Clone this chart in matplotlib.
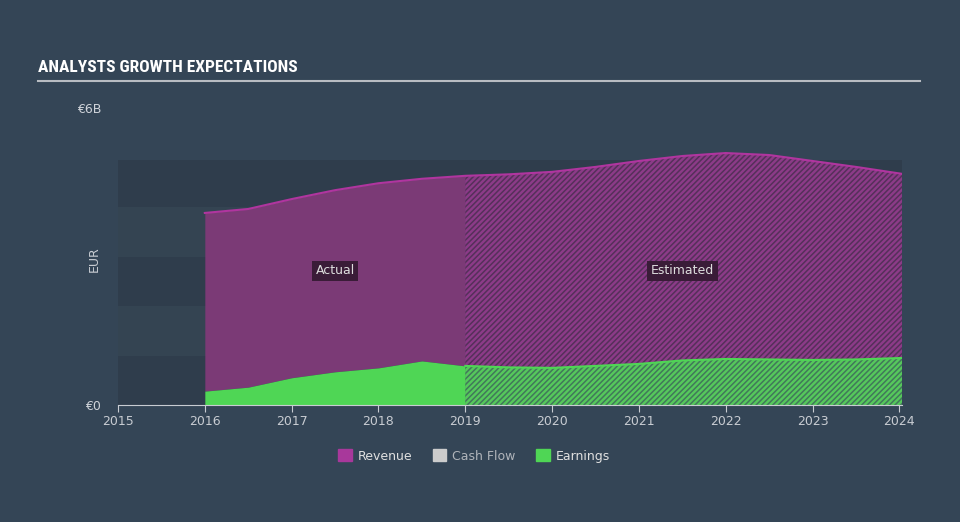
import numpy as np
import matplotlib.pyplot as plt
from matplotlib.patches import Patch

# values in billions EUR
rev_years = [2016.0, 2016.5, 2017.0, 2017.5, 2018.0, 2018.5, 2019.0, 2019.5, 2020.0,
             2020.5, 2021.0, 2021.5, 2022.0, 2022.5, 2023.0, 2023.5, 2024.03]
revenue = [3.88, 3.96, 4.16, 4.34, 4.48, 4.57, 4.63, 4.66, 4.71,
           4.81, 4.93, 5.03, 5.09, 5.05, 4.93, 4.81, 4.67]
earnings = [0.28, 0.36, 0.55, 0.67, 0.75, 0.89, 0.79, 0.76, 0.75,
            0.79, 0.83, 0.90, 0.93, 0.92, 0.91, 0.92, 0.95]
split_year = 2019.0
x_ticks = list(range(2015, 2025))
y_ticks = [0, 6]
y_labels = ["€0", "€6B"]
legend_names = ["Revenue", "Cash Flow", "Earnings"]

bg = "#344556"
rev_fill = "#7b3a76"
rev_line = "#b0359f"
earn_fill = "#4fd655"

plt.rcParams["hatch.linewidth"] = 1.1

fig = plt.figure(figsize=[9.6, 5.22], dpi=100)
fig.patch.set_facecolor(bg)
ax = fig.add_axes([118 / 960, 117 / 522, 784 / 960, 297 / 522])
ax.set_facecolor(bg)

ax.set_xlim(2015, 2024.03)
ax.set_ylim(0, 6)

# background bands
for i in range(5):
    c = "#2f3d4c" if i % 2 == 0 else "#344452"
    ax.axhspan(i, min(i + 1, 4.95), color=c, zorder=0, lw=0)

x = np.array(rev_years)
r = np.array(revenue)
e = np.array(earnings)
act = x <= split_year
est = x >= split_year

ax.fill_between(x[act], e[act], r[act], color=rev_fill, lw=0, zorder=2)
ax.fill_between(x[act], 0, e[act], color=earn_fill, lw=0, zorder=2)
ax.fill_between(x[est], e[est], r[est], facecolor="#8c3b88", edgecolor="#55305a",
                hatch="//////", lw=0, zorder=2)
ax.fill_between(x[est], 0, e[est], facecolor="#56c85c", edgecolor="#41785a",
                hatch="//////", lw=0, zorder=2)
ax.plot(x, r, color=rev_line, lw=1.5, zorder=3)
ax.plot(x[est], e[est], color=earn_fill, lw=1.5, zorder=3)

for tx, label in [(2017.5, "Actual"), (2021.5, "Estimated")]:
    ax.text(tx, 2.71, label, color="#dddddd", fontsize=9, ha="center", va="center",
            zorder=5, bbox=dict(boxstyle="square,pad=0.3", fc="#3a1c38", ec="none"))

for s in ["top", "right", "left"]:
    ax.spines[s].set_visible(False)
ax.spines["bottom"].set_color("#c8ccd2")
ax.set_xticks(x_ticks)
ax.set_xticklabels([str(t) for t in x_ticks])
ax.tick_params(axis="x", colors="#c8ccd2", labelcolor="#c8ccd2", length=5, labelsize=9, pad=2)
ax.set_yticks(y_ticks)
ax.set_yticklabels(y_labels)
ax.tick_params(axis="y", length=0, labelcolor="#d0d4da", labelsize=9, pad=12)
ax.set_ylabel("EUR", color="#c8ccd2", fontsize=9, labelpad=2)
ax.yaxis.set_label_coords(-0.022, 0.49)

fig.text(38 / 960, 1 - 68 / 522, "ANALYSTS GROWTH EXPECTATIONS", color="white",
         fontsize=12.5, fontweight="bold", va="center", ha="left",
         family=["Roboto Condensed", "DejaVu Sans"])
fig.add_artist(plt.Line2D([38 / 960, 920 / 960], [1 - 81 / 522, 1 - 81 / 522],
                          color="#b8bcc2", lw=1.5))

handles = [Patch(color="#a8389b"), Patch(color="#cccccc"), Patch(color=earn_fill)]
leg = fig.legend(handles, legend_names, loc="center", bbox_to_anchor=(474 / 960, 1 - 456 / 522),
                 ncol=3, frameon=False, fontsize=9, handlelength=1.1, handleheight=1.1,
                 columnspacing=1.6, handletextpad=0.5)
for t, c in zip(leg.get_texts(), ["#e0e0e0", "#b0b4ba", "#e0e0e0"]):
    t.set_color(c)

fig.savefig("out.png", dpi=100, facecolor=bg)
